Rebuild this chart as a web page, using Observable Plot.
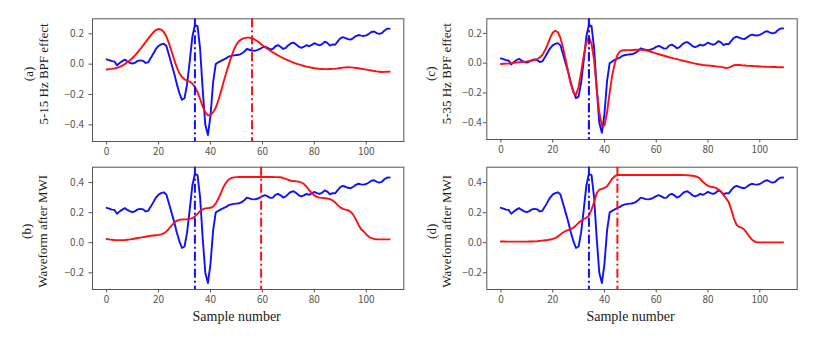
<!DOCTYPE html>
<html><head><meta charset="utf-8">
<script src="https://cdn.jsdelivr.net/npm/d3@7"></script>
<script src="https://cdn.jsdelivr.net/npm/@observablehq/plot@0.6"></script>
<style>
body{margin:0;background:#fff;}
#chart{position:relative;width:817px;height:338px;background:#fff;overflow:hidden}
.panel{position:absolute}
</style></head><body><div id="chart"></div>
<script>
// ECG segment after 5-15 Hz / 5-35 Hz band-pass (blue, shared) — samples 0..109
const ecgBPF = [
 0.032,0.027,0.02,0.018,-0.008,0.008,0.02,0.03,0.018,0.008,
 0.004,0.01,0.022,0.025,0.022,0.008,0.012,0.04,0.07,0.1,
 0.12,0.13,0.135,0.12,0.06,0.0,-0.06,-0.13,-0.19,-0.235,
 -0.225,-0.13,0.02,0.18,0.258,0.25,0.1,-0.17,-0.4,-0.468,
 -0.34,-0.12,0.0,0.012,0.022,0.03,0.038,0.05,0.055,0.058,
 0.06,0.062,0.07,0.082,0.1,0.095,0.09,0.088,0.092,0.1,
 0.11,0.116,0.108,0.098,0.1,0.118,0.125,0.115,0.1,0.108,
 0.125,0.138,0.142,0.13,0.115,0.108,0.115,0.125,0.118,0.127,
 0.138,0.13,0.124,0.132,0.148,0.14,0.122,0.13,0.128,0.15,
 0.17,0.178,0.172,0.165,0.162,0.172,0.185,0.192,0.188,0.186,
 0.19,0.2,0.212,0.215,0.205,0.2,0.205,0.222,0.233,0.234];
// Same ECG segment as drawn in the MWI panels (b), (d)
const ecgMWI = [
 0.232,0.227,0.22,0.218,0.192,0.208,0.22,0.23,0.218,0.208,
 0.204,0.21,0.222,0.225,0.222,0.208,0.212,0.24,0.27,0.3,
 0.32,0.33,0.335,0.32,0.26,0.2,0.14,0.07,0.01,-0.035,
 -0.025,0.07,0.22,0.38,0.458,0.45,0.3,0.03,-0.2,-0.268,
 -0.14,0.08,0.2,0.212,0.222,0.23,0.238,0.25,0.255,0.258,
 0.26,0.262,0.27,0.282,0.3,0.295,0.29,0.288,0.292,0.3,
 0.31,0.316,0.308,0.298,0.3,0.318,0.325,0.315,0.3,0.308,
 0.325,0.338,0.342,0.33,0.315,0.308,0.315,0.325,0.318,0.327,
 0.338,0.33,0.324,0.332,0.348,0.34,0.322,0.33,0.328,0.35,
 0.37,0.378,0.372,0.365,0.362,0.372,0.385,0.392,0.388,0.386,
 0.39,0.4,0.412,0.415,0.405,0.4,0.405,0.422,0.433,0.434];
// (a) 5-15 Hz BPF output (red)
const bpf515 = [
 -0.035,-0.033,-0.031,-0.028,-0.024,-0.018,-0.01,0.0,0.012,0.026,
 0.042,0.06,0.08,0.1,0.122,0.145,0.168,0.19,0.21,0.225,
 0.232,0.228,0.212,0.182,0.138,0.085,0.03,-0.02,-0.06,-0.085,
 -0.1,-0.108,-0.115,-0.128,-0.15,-0.185,-0.23,-0.28,-0.318,-0.337,
 -0.335,-0.318,-0.288,-0.24,-0.182,-0.12,-0.06,-0.005,0.048,0.095,
 0.13,0.152,0.165,0.172,0.175,0.175,0.171,0.163,0.152,0.139,
 0.125,0.112,0.1,0.089,0.078,0.068,0.058,0.049,0.04,0.032,
 0.025,0.017,0.01,0.004,-0.002,-0.007,-0.012,-0.016,-0.02,-0.024,
 -0.027,-0.029,-0.031,-0.032,-0.033,-0.033,-0.032,-0.031,-0.03,-0.028,
 -0.025,-0.023,-0.021,-0.02,-0.021,-0.023,-0.025,-0.027,-0.03,-0.033,
 -0.036,-0.039,-0.042,-0.045,-0.048,-0.05,-0.052,-0.051,-0.05,-0.049];
// (c) 5-35 Hz BPF output (red)
const bpf535 = [
 -0.005,-0.004,-0.003,-0.002,0.0,0.002,0.004,0.006,0.008,0.01,
 0.012,0.015,0.018,0.022,0.028,0.038,0.055,0.085,0.125,0.168,
 0.205,0.218,0.208,0.17,0.105,0.025,-0.06,-0.14,-0.195,-0.212,
 -0.16,-0.06,0.05,0.14,0.175,0.13,0.02,-0.17,-0.33,-0.42,
 -0.42,-0.33,-0.2,-0.08,0.0,0.055,0.08,0.087,0.087,0.088,
 0.088,0.089,0.09,0.09,0.09,0.089,0.086,0.082,0.077,0.071,
 0.065,0.06,0.055,0.05,0.045,0.04,0.036,0.031,0.027,0.022,
 0.018,0.014,0.01,0.006,0.002,-0.003,-0.006,-0.009,-0.012,-0.014,
 -0.015,-0.017,-0.019,-0.021,-0.023,-0.025,-0.028,-0.032,-0.03,-0.022,
 -0.013,-0.011,-0.012,-0.014,-0.015,-0.017,-0.018,-0.019,-0.02,-0.021,
 -0.022,-0.023,-0.024,-0.025,-0.025,-0.026,-0.026,-0.027,-0.027,-0.027];
// (b) MWI output after 5-15 Hz BPF (red)
const mwi515 = [
 0.025,0.022,0.02,0.018,0.017,0.017,0.017,0.018,0.02,0.022,
 0.025,0.028,0.031,0.034,0.037,0.04,0.043,0.046,0.048,0.05,
 0.052,0.055,0.062,0.075,0.093,0.113,0.132,0.146,0.152,0.154,
 0.155,0.156,0.158,0.163,0.175,0.192,0.21,0.222,0.228,0.23,
 0.232,0.24,0.26,0.292,0.33,0.37,0.4,0.42,0.43,0.434,
 0.436,0.437,0.437,0.437,0.437,0.437,0.437,0.437,0.437,0.437,
 0.437,0.437,0.437,0.437,0.437,0.436,0.436,0.435,0.43,0.424,
 0.417,0.412,0.41,0.408,0.406,0.4,0.39,0.372,0.35,0.33,
 0.315,0.305,0.3,0.298,0.296,0.294,0.29,0.282,0.268,0.25,
 0.235,0.225,0.22,0.216,0.205,0.185,0.155,0.12,0.09,0.075,
 0.055,0.04,0.03,0.025,0.023,0.022,0.022,0.022,0.022,0.022];
// (d) MWI output after 5-35 Hz BPF (red)
const mwi535 = [
 0.008,0.008,0.007,0.007,0.007,0.007,0.007,0.007,0.007,0.007,
 0.007,0.008,0.008,0.009,0.01,0.012,0.014,0.016,0.018,0.021,
 0.025,0.03,0.042,0.055,0.068,0.078,0.084,0.09,0.1,0.115,
 0.132,0.146,0.158,0.166,0.18,0.22,0.27,0.33,0.352,0.358,
 0.365,0.375,0.4,0.425,0.442,0.45,0.45,0.45,0.45,0.45,
 0.45,0.45,0.45,0.45,0.45,0.45,0.45,0.45,0.45,0.45,
 0.45,0.45,0.45,0.45,0.45,0.45,0.45,0.45,0.45,0.45,
 0.45,0.449,0.448,0.447,0.445,0.442,0.437,0.425,0.405,0.39,
 0.378,0.372,0.37,0.365,0.355,0.34,0.318,0.295,0.27,0.22,
 0.16,0.12,0.105,0.1,0.088,0.065,0.04,0.02,0.008,0.002,
 0.002,0.002,0.002,0.002,0.002,0.002,0.002,0.002,0.002,0.002];

// marker positions (sample index): R-peak (blue) and detection (red)
const rPeak = [34];
const detA = [56], detB = [59.5], detC = [34], detD = [45];

const xTicks = [0, 20, 40, 60, 80, 100];
const yTicksBPF = [-0.4, -0.2, 0.0, 0.2];
const yTicksMWI = [-0.2, 0.0, 0.2, 0.4];
const xDomain = [-5.45, 114.45];
const tags = ["(a)", "(b)", "(c)", "(d)"];
const yLabels = ["5-15 Hz BPF effect", "Waveform after MWI", "5-35 Hz BPF effect", "Waveform after MWI"];
const xLabel = "Sample number";

const serif = "'Liberation Serif','Times New Roman',serif";
const tickFont = "'Noto Sans CJK SC','DejaVu Sans',sans-serif";
const dash = "9,3,2,3";

function panel(c) {
  const marks = [
    Plot.frame({stroke: "#555", strokeWidth: 1}),
    Plot.axisX({ticks: xTicks, tickSize: 3.5, tickPadding: 2.5, tickFormat: d => String(d), label: null,
      fontSize: 10, color: "#555", fontFamily: tickFont}),
    Plot.axisY({ticks: c.yTicks, tickSize: 3.5, tickPadding: c.yPad, tickFormat: d3.format(".1f"), label: null,
      fontSize: 10, color: "#555", fontFamily: tickFont}),
    Plot.lineY(c.blue, {stroke: "#1010ff", strokeWidth: 1.9}),
    Plot.lineY(c.red, {stroke: "#ff1010", strokeWidth: 1.9}),
    Plot.ruleX(c.det, {stroke: "#ff1010", strokeWidth: 2, strokeDasharray: dash}),
    Plot.ruleX(rPeak, {stroke: "#1010ff", strokeWidth: 2, strokeDasharray: dash}),
    Plot.text([c.tag], {frameAnchor: "left", textAnchor: "middle", rotate: -90, dx: c.tagDx, dy: c.labDy, fontFamily: serif, fontSize: 13, fill: "#1a1a1a"}),
    Plot.text([c.ylab], {frameAnchor: "left", textAnchor: "middle", rotate: -90, dx: c.labDx, dy: c.labDy, fontFamily: serif, fontSize: 13, fill: "#1a1a1a"})
  ];
  if (c.xlab) marks.push(Plot.text([xLabel], {frameAnchor: "bottom", textAnchor: "middle", dx: -11.5, dy: 31, fontFamily: serif, fontSize: 14, fill: "#1a1a1a"}));
  const svg = Plot.plot({
    width: c.width, height: c.height,
    marginLeft: c.mL, marginRight: c.mR, marginTop: c.mT, marginBottom: c.mB,
    x: {domain: xDomain},
    y: {domain: c.yDomain},
    style: {background: "transparent", overflow: "visible"},
    marks
  });
  const div = document.createElement("div");
  div.className = "panel";
  div.style.left = c.left + "px";
  div.style.top = c.top + "px";
  div.appendChild(svg);
  document.getElementById("chart").appendChild(div);
}

panel({left: 0, top: 0, width: 408, height: 160, mL: 92, mR: 4.7, mT: 18.3, mB: 19,
  yDomain: [-0.51, 0.299], yTicks: yTicksBPF, yPad: 5, blue: ecgBPF, red: bpf515, det: detA,
  tag: tags[0], ylab: yLabels[0], tagDx: -64, labDx: -49, labDy: -6.2, xlab: false});
panel({left: 0, top: 160, width: 408, height: 178, mL: 92, mR: 4.7, mT: 6.7, mB: 49,
  yDomain: [-0.311, 0.502], yTicks: yTicksMWI, yPad: 5, blue: ecgMWI, red: mwi515, det: detB,
  tag: tags[1], ylab: yLabels[1], tagDx: -66, labDx: -49.3, labDy: 3, xlab: true});
panel({left: 408, top: 0, width: 409, height: 160, mL: 78.3, mR: 20.3, mT: 18.3, mB: 21,
  yDomain: [-0.513, 0.2985], yTicks: yTicksBPF, yPad: 1.5, blue: ecgBPF, red: bpf535, det: detC,
  tag: tags[2], ylab: yLabels[2], tagDx: -56.3, labDx: -39.6, labDy: -5.4, xlab: false});
panel({left: 408, top: 160, width: 409, height: 178, mL: 78.3, mR: 20.3, mT: 6.7, mB: 49,
  yDomain: [-0.311, 0.502], yTicks: yTicksMWI, yPad: 1.5, blue: ecgMWI, red: mwi535, det: detD,
  tag: tags[3], ylab: yLabels[3], tagDx: -54.6, labDx: -39.6, labDy: 3, xlab: true});
</script></body></html>
